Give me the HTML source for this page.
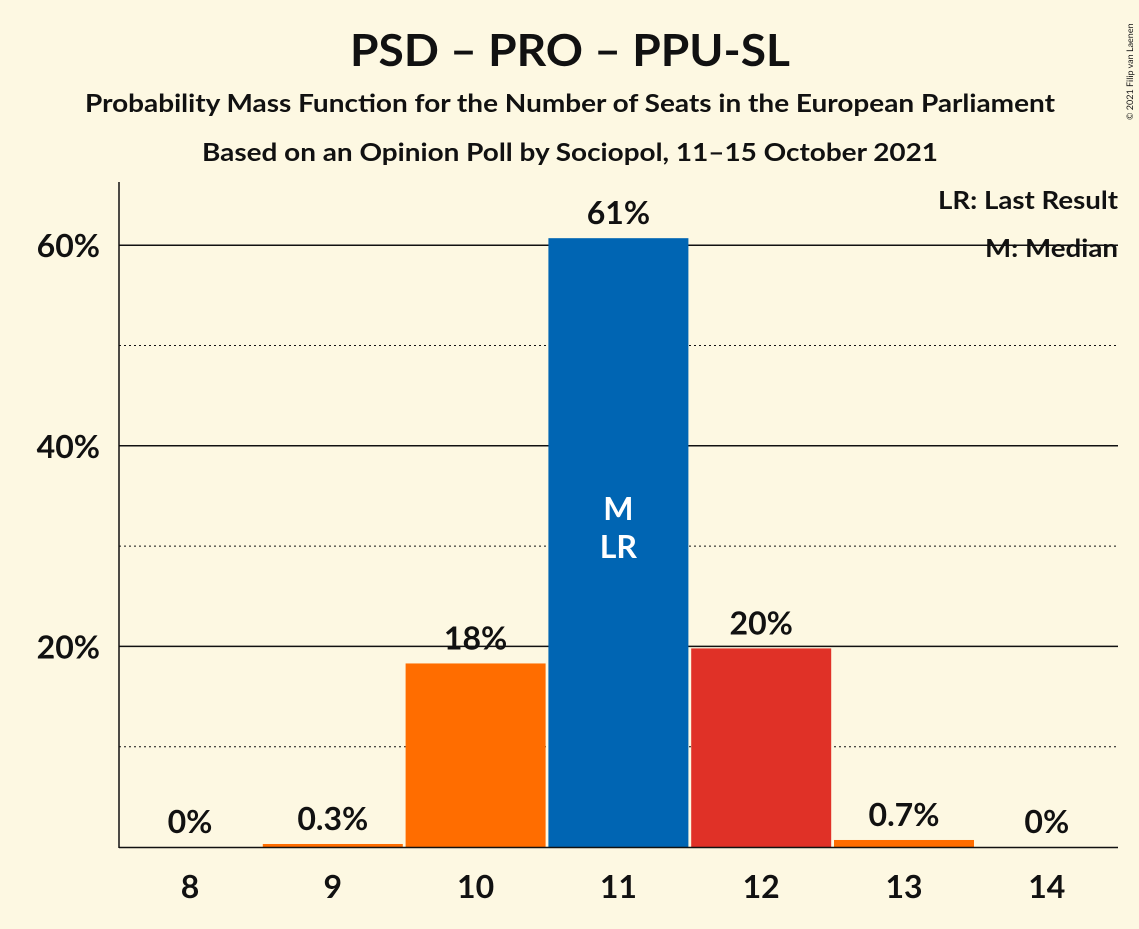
<!DOCTYPE html>
<html><head><meta charset="utf-8"><style>
body{margin:0;background:#fdf8e2;font-family:"Liberation Sans",sans-serif;}
svg text{font-family:"Lato","Liberation Sans",sans-serif;font-weight:bold;fill:#111;}
</style></head><body>
<svg id="chart" width="1139" height="924">
<rect width="1139" height="924" fill="#fdf8e2"/>
<text x="350" y="66" font-size="44" textLength="440" lengthAdjust="spacingAndGlyphs">PSD – PRO – PPU-SL</text>
<text x="85" y="112" font-size="25" textLength="970" lengthAdjust="spacingAndGlyphs">Probability Mass Function for the Number of Seats in the European Parliament</text>
<text x="202" y="161" font-size="25" textLength="736" lengthAdjust="spacingAndGlyphs">Based on an Opinion Poll by Sociopol, 11–15 October 2021</text>
<text x="1133" y="120" font-size="9" transform="rotate(-90 1133 120)" text-anchor="start" style="font-weight:normal">© 2021 Filip van Laenen</text>
<g id="grid"></g><g id="bars"></g><g id="labels"></g>
<line x1="119" y1="182" x2="119" y2="848" stroke="#111" stroke-width="1.5"/>
<line x1="119" y1="847.5" x2="1118" y2="847.5" stroke="#111" stroke-width="1.5"/>
<text x="938" y="209" font-size="25" textLength="180" lengthAdjust="spacingAndGlyphs">LR: Last Result</text>
<text x="985" y="257" font-size="25" textLength="133" lengthAdjust="spacingAndGlyphs">M: Median</text>
</svg>
<script>
const seats=[8,9,10,11,12,13,14];
const probs=[0,0.3,18.3,60.7,19.8,0.7,0];
const valueLabels=["0%","0.3%","18%","61%","20%","0.7%","0%"];
const colors=["#ff6d00","#ff6d00","#ff6d00","#0065b3","#e03127","#ff6d00","#ff6d00"];
const yTicks=[20,40,60];
const yMinor=[10,30,50];
const ns="http://www.w3.org/2000/svg";
const y=v=>847-v*10.03;
const x=i=>190+i*142.8;
function mk(tag,attrs,parent){const e=document.createElementNS(ns,tag);for(const k in attrs)e.setAttribute(k,attrs[k]);document.getElementById(parent).appendChild(e);return e;}
yMinor.forEach(v=>{const l=mk('line',{x1:119,x2:1118,y1:y(v),y2:y(v),stroke:'#111','stroke-dasharray':'2,3','stroke-width':1},'grid');

});
yTicks.forEach(v=>{const l=mk('line',{x1:119,x2:1118,y1:y(v),y2:y(v),stroke:'#111','stroke-width':1.5},'grid');


const t=mk('text',{x:100,y:y(v)+12,'font-size':32,'text-anchor':'end'},'labels');t.textContent=v+'%';

});
seats.forEach((s,i)=>{
if(probs[i]>0){const r=mk('rect',{x:x(i)-70,width:140,y:y(probs[i]),height:847-y(probs[i]),fill:colors[i]},'bars');

}
const t=mk('text',{x:x(i),y:y(probs[i])-14,'font-size':32,'text-anchor':'middle'},'labels');t.textContent=valueLabels[i];


const xl=mk('text',{x:x(i),y:898,'font-size':32,'text-anchor':'middle'},'labels');xl.textContent=s;


});
const m=mk('text',{x:x(3),y:520,'font-size':32,'text-anchor':'middle',style:'fill:#fff'},'labels');m.textContent='M';


const lr=mk('text',{x:x(3),y:558,'font-size':32,'text-anchor':'middle',style:'fill:#fff'},'labels');lr.textContent='LR';


</script>
</body></html>
